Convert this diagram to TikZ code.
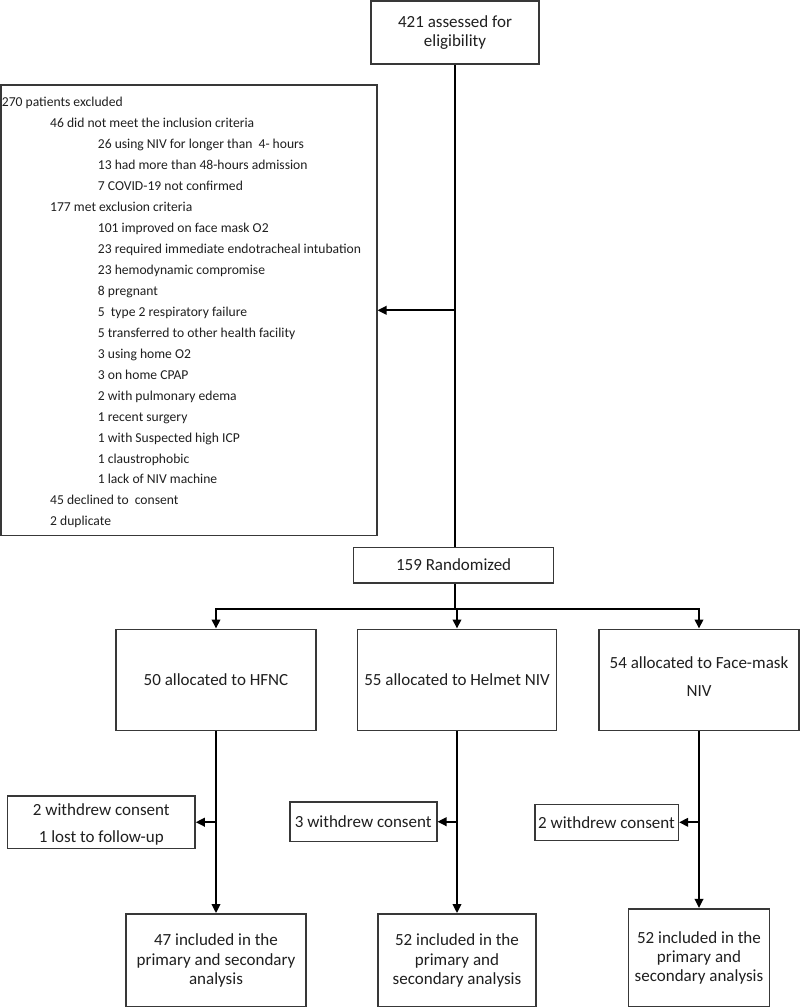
\documentclass[tikz,border=0pt]{standalone}
\usepackage{fontspec}
\setmainfont{Carlito}
\usetikzlibrary{arrows.meta}
\definecolor{ink}{HTML}{1F1F1F}
\definecolor{edge}{HTML}{383838}
\begin{document}
\begin{tikzpicture}[x=1pt,y=-1pt,
  box/.style={draw=edge, line width=1.6pt, inner sep=0pt, align=center, text=ink, font=\fontsize{17}{19}\selectfont},
  lbl/.style={inner sep=0pt, align=center, text=ink, font=\fontsize{17}{19}\selectfont},
  conn/.style={line width=2pt, draw=black},
  arr/.style={conn, -{Triangle[length=9pt,width=8.5pt]}}]
\useasboundingbox (0,0) rectangle (800,1007);
\fill[white] (0,0) rectangle (800,1007);
% boxes
\node[box, minimum width=168pt, minimum height=63pt] (top) at (455,32.5) {421 assessed for\\eligibility};
\node[box, minimum width=375.7pt, minimum height=450.5pt] (excl) at (188.85,310.3) {};
\node[anchor=north west, align=left, inner sep=0pt, text=ink, font=\fontsize{13.6}{20.95}\selectfont] (excltext) at (1.7,97.2) {270 patients excluded\\
\hspace*{48.3pt}46 did not meet the inclusion criteria\\
\hspace*{96pt}26 using NIV for longer than\ \ 4- hours\\
\hspace*{96pt}13 had more than 48-hours admission\\
\hspace*{96pt}7 COVID-19 not confirmed\\
\hspace*{48.3pt}177 met exclusion criteria\\
\hspace*{96pt}101 improved on face mask O2\\
\hspace*{96pt}23 required immediate endotracheal intubation\\
\hspace*{96pt}23 hemodynamic compromise\\
\hspace*{96pt}8 pregnant\\
\hspace*{96pt}5\ \ type 2 respiratory failure\\
\hspace*{96pt}5 transferred to other health facility\\
\hspace*{96pt}3 using home O2\\
\hspace*{96pt}3 on home CPAP\\
\hspace*{96pt}2 with pulmonary edema\\
\hspace*{96pt}1 recent surgery\\
\hspace*{96pt}1 with Suspected high ICP\\
\hspace*{96pt}1 claustrophobic\\
\hspace*{96pt}1 lack of NIV machine\\
\hspace*{48.3pt}45 declined to\ \ consent\\
\hspace*{48.3pt}2 duplicate};
\node[box, minimum width=200pt, minimum height=35.4pt] (rand) at (453.6,565) {159 Randomized};
\node[box, minimum width=200.2pt, minimum height=101pt] (hfnc) at (216,679.8) {50 allocated to HFNC};
\node[box, minimum width=199pt, minimum height=101pt] (helmet) at (457,679.8) {55 allocated to Helmet NIV};
\node[box, minimum width=200pt, minimum height=101pt] (face) at (699,679.8) {};
\node[lbl, font=\fontsize{17}{28}\selectfont] (facetext) at (699,676.5) {54 allocated to Face-mask\\NIV};
\node[box, minimum width=187.3pt, minimum height=52.3pt] (wd1) at (101.3,822.2) {};
\node[lbl, font=\fontsize{17}{27.7}\selectfont] (wd1text) at (101.3,824.5) {2 withdrew consent\\1 lost to follow-up};
\node[box, minimum width=147pt, minimum height=39.3pt] (wd2) at (363.2,821.7) {3 withdrew consent};
\node[box, minimum width=143.6pt, minimum height=36pt] (wd3) at (606.5,822.3) {2 withdrew consent};
\node[box, minimum width=180.5pt, minimum height=93.2pt, font=\fontsize{17}{19.2}\selectfont] (res1) at (216,960.5) {47 included in the\\primary and secondary\\analysis};
\node[box, minimum width=158pt, minimum height=93.2pt, font=\fontsize{17}{19.2}\selectfont] (res2) at (457,960.5) {52 included in the\\primary and\\secondary analysis};
\node[box, minimum width=141pt, minimum height=98.2pt, font=\fontsize{17}{19.2}\selectfont] (res3) at (699,957.8) {52 included in the\\primary and\\secondary analysis};
% connectors
\coordinate (bj) at (455,609.3);
\coordinate (jog) at (699,888);
\draw[conn] (top.south) -- (top.south |- rand.north);
\draw[arr] (top.south |- excl.east) -- (excl.east);
\draw[conn] (top.south |- rand.south) -- (bj);
\draw[conn, line cap=rect] (hfnc.north |- bj) -- (face.north |- bj);
\draw[arr] (hfnc.north |- bj) -- (hfnc.north);
\draw[arr] (helmet.north |- bj) -- (helmet.north);
\draw[arr] (face.north |- bj) -- (face.north);
\draw[arr] (hfnc.south) -- (hfnc.south |- res1.north);
\draw[arr] (helmet.south) -- (helmet.south |- res2.north);
\draw[arr] (face.south) -- (jog) -- (res3.north);
\draw[arr] (hfnc.south |- wd1.east) -- (wd1.east);
\draw[arr] (helmet.south |- wd2.east) -- (wd2.east);
\draw[arr] (face.south |- wd3.east) -- (wd3.east);
\end{tikzpicture}
\end{document}
